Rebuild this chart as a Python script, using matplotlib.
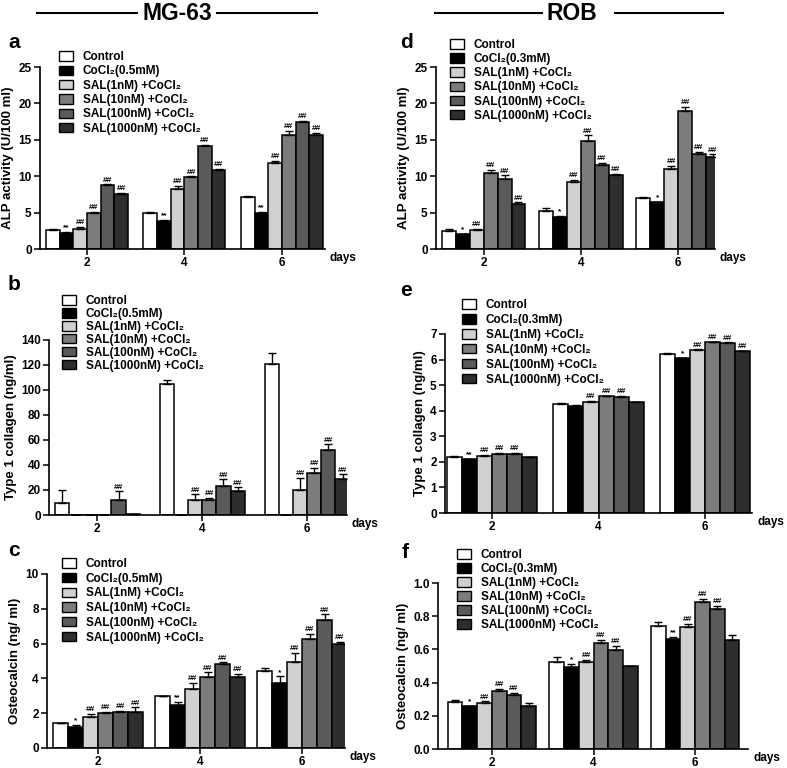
import numpy as np
import matplotlib
matplotlib.use('Agg')
import matplotlib.pyplot as plt
from matplotlib.lines import Line2D

plt.rcParams['font.family'] = ['Liberation Sans', 'DejaVu Sans']
plt.rcParams['font.weight'] = 'bold'

W, H = 787, 768

days = ['2', '4', '6']
colors = ['#ffffff', '#000000', '#d0d0d0', '#7c7c7c', '#5a5a5a', '#2e2e2e']
labels_mg63 = ['Control', 'CoCl₂(0.5mM)', 'SAL(1nM) +CoCl₂', 'SAL(10nM) +CoCl₂',
               'SAL(100nM) +CoCl₂', 'SAL(1000nM) +CoCl₂']
labels_rob = ['Control', 'CoCl₂(0.3mM)', 'SAL(1nM) +CoCl₂', 'SAL(10nM) +CoCl₂',
              'SAL(100nM) +CoCl₂', 'SAL(1000nM) +CoCl₂']

# rows = treatment (Control, CoCl2, 1nM, 10nM, 100nM, 1000nM), cols = day 2, 4, 6
alp_mg63 = [[2.6, 4.9, 7.1], [2.2, 3.9, 5.0], [2.7, 8.2, 11.8],
            [5.0, 9.9, 15.7], [8.8, 14.1, 17.5], [7.5, 10.8, 15.7]]
alp_mg63_err = [[0.2, 0.2, 0.2], [0.1, 0.1, 0.1], [0.3, 0.5, 0.3],
                [0.1, 0.1, 0.5], [0.1, 0.2, 0.1], [0.2, 0.2, 0.3]]
alp_mg63_sig = [['', '', ''], ['**', '**', '**'], ['##', '##', '##'],
                ['##', '##', '##'], ['##', '##', '##'], ['##', '##', '##']]

alp_rob = [[2.5, 5.2, 7.05], [2.0, 4.4, 6.4], [2.65, 9.2, 10.95],
           [10.5, 14.9, 18.9], [9.6, 11.5, 13.1], [6.2, 10.1, 12.6]]
alp_rob_err = [[0.2, 0.4, 0.1], [0.1, 0.1, 0.1], [0.1, 0.3, 0.5],
               [0.4, 0.7, 0.6], [0.5, 0.3, 0.2], [0.2, 0.2, 0.4]]
alp_rob_sig = [['', '', ''], ['*', '*', '*'], ['##', '##', '##'],
               ['##', '##', '##'], ['##', '##', '##'], ['##', '##', '##']]

col_mg63 = [[10, 105, 121], [0, 0, 0], [0, 12, 20],
            [0, 12, 34], [12, 23, 52], [0.8, 19.5, 28.5]]
col_mg63_err = [[10, 3, 8.5], [0, 0, 0], [0, 4.5, 10],
                [0, 1.5, 4], [7, 5.5, 4.5], [0, 2.7, 4]]
col_mg63_sig = [['', '', ''], ['', '', ''], ['', '##', '##'],
                ['', '##', '##'], ['##', '##', '##'], ['', '##', '##']]

col_rob = [[2.19, 4.26, 6.22], [2.11, 4.2, 6.05], [2.24, 4.35, 6.36],
           [2.32, 4.56, 6.68], [2.32, 4.54, 6.65], [2.19, 4.33, 6.32]]
col_rob_err = [[0.02, 0.03, 0.04], [0.02, 0.01, 0.02], [0.03, 0.04, 0.04],
               [0.03, 0.02, 0.02], [0.02, 0.03, 0.02], [0.01, 0.03, 0.02]]
col_rob_sig = [['', '', ''], ['**', '', '*'], ['##', '##', '##'],
               ['##', '##', '##'], ['##', '##', '##'], ['', '', '##']]

ost_mg63 = [[1.41, 2.96, 4.42], [1.22, 2.45, 3.71], [1.76, 3.38, 4.95],
            [1.99, 4.09, 6.25], [2.06, 4.82, 7.34], [2.08, 4.09, 5.95]]
ost_mg63_err = [[0.02, 0.02, 0.2], [0.08, 0.2, 0.4], [0.2, 0.38, 0.5],
                [0.08, 0.25, 0.3], [0.08, 0.1, 0.34], [0.25, 0.17, 0.17]]
ost_mg63_sig = [['', '', ''], ['*', '**', '*'], ['##', '##', '##'],
                ['##', '##', '##'], ['##', '##', '##'], ['##', '##', '##']]

ost_rob = [[0.283, 0.526, 0.739], [0.257, 0.496, 0.663], [0.277, 0.524, 0.735],
           [0.347, 0.639, 0.886], [0.323, 0.596, 0.843], [0.261, 0.498, 0.659]]
ost_rob_err = [[0.01, 0.03, 0.025], [0.005, 0.015, 0.01], [0.01, 0.015, 0.02],
               [0.015, 0.02, 0.02], [0.015, 0.025, 0.02], [0.015, 0.005, 0.03]]
ost_rob_sig = [['', '', ''], ['*', '*', '**'], ['##', '##', '##'],
               ['##', '##', '##'], ['##', '##', '##'], ['', '', '']]


def px_axes(fig, left, right, bottom, top):
    return fig.add_axes([left / W, 1 - bottom / H, (right - left) / W, (bottom - top) / H])


def bar_panel(ax, vals, errs, sigs, ylim, yticks, ylabel, xlim, group=0.85):
    n = len(vals)
    w = group / n
    x = np.arange(len(days))
    for i in range(n):
        pos = x - group / 2 + w * (i + 0.5)
        v = np.array(vals[i], dtype=float)
        e = np.array(errs[i], dtype=float)
        ax.bar(pos, v, w, color=colors[i], edgecolor='black', linewidth=1.1, zorder=2)
        ax.errorbar(pos, v, yerr=[np.zeros_like(e), e], fmt='none', ecolor='black',
                    elinewidth=1.0, capsize=3, capthick=1.0, zorder=3)
        for p, top, s in zip(pos, v + e, sigs[i]):
            if s:
                ax.annotate(s, (p, top), xytext=(0, 0.5), textcoords='offset points',
                            ha='center', va='bottom', fontsize=6, fontweight='bold')
    ax.set_xlim(*xlim)
    ax.set_ylim(*ylim)
    ax.set_yticks(yticks)
    ax.set_xticks(x)
    ax.set_xticklabels(days)
    ax.set_ylabel(ylabel, fontsize=9.5, fontweight='bold', labelpad=3)
    for sp in ['top', 'right']:
        ax.spines[sp].set_visible(False)
    for sp in ['left', 'bottom']:
        ax.spines[sp].set_linewidth(1.2)
    ax.tick_params(axis='both', labelsize=8.5, width=1.1, length=4, pad=2)
    ax.annotate('days', (1, 0), xytext=(5, -9), textcoords='offset pixels',
                xycoords='axes fraction', ha='left', va='center', fontsize=8.5, fontweight='bold')


def add_legend(fig, ax, labels, left, top, spacing=0.2):
    handles = [plt.Rectangle((0, 0), 1, 1, facecolor=c, edgecolor='black', linewidth=1.0)
               for c in colors]
    ax.legend(handles, labels, loc='upper left', bbox_to_anchor=(left / W, 1 - top / H),
              bbox_transform=fig.transFigure, frameon=False,
              handlelength=1.2, handleheight=0.85, labelspacing=spacing,
              handletextpad=0.8, borderpad=0, borderaxespad=0,
              prop={'weight': 'bold', 'size': 8.5})


def main():
    fig = plt.figure(figsize=(W / 100, H / 100), dpi=100)

    ax_a = px_axes(fig, 40, 325, 249, 67)
    bar_panel(ax_a, alp_mg63, alp_mg63_err, alp_mg63_sig, (0, 25), range(0, 26, 5),
              'ALP activity (U/100 ml)', (-0.48, 2.44), 0.84)
    add_legend(fig, ax_a, labels_mg63, 59, 51, 0.2)

    ax_d = px_axes(fig, 436, 715, 249, 67)
    bar_panel(ax_d, alp_rob, alp_rob_err, alp_rob_sig, (0, 25), range(0, 26, 5),
              'ALP activity (U/100 ml)', (-0.49, 2.38), 0.86)
    add_legend(fig, ax_d, labels_rob, 450, 39, 0.18)

    ax_b = px_axes(fig, 49, 347, 515, 340)
    bar_panel(ax_b, col_mg63, col_mg63_err, col_mg63_sig, (0, 140), range(0, 141, 20),
              'Type 1 collagen (ng/ml)', (-0.46, 2.38), 0.81)
    add_legend(fig, ax_b, labels_mg63, 62, 295, 0.08)

    ax_e = px_axes(fig, 445, 752, 513, 334)
    bar_panel(ax_e, col_rob, col_rob_err, col_rob_sig, (0, 7), range(0, 8),
              'Type 1 collagen (ng/ml)', (-0.44, 2.44), 0.85)
    add_legend(fig, ax_e, labels_rob, 462, 299, 0.25)

    ax_c = px_axes(fig, 47, 345, 748, 574)
    bar_panel(ax_c, ost_mg63, ost_mg63_err, ost_mg63_sig, (0, 10), range(0, 11, 2),
              'Osteocalcin (ng/ ml)', (-0.5, 2.42), 0.88)
    add_legend(fig, ax_c, labels_mg63, 62, 558, 0.23)

    ax_f = px_axes(fig, 438, 748, 749, 583)
    bar_panel(ax_f, ost_rob, ost_rob_err, ost_rob_sig, (0, 1.0), np.arange(0, 1.01, 0.2),
              'Osteocalcin (ng/ ml)', (-0.53, 2.52), 0.87)
    ax_f.set_yticklabels(['0.0', '0.2', '0.4', '0.6', '0.8', '1.0'])
    add_legend(fig, ax_f, labels_rob, 457, 549, 0.17)

    # panel letters
    for letter, x, y in [('a', 8, 43), ('d', 400, 43), ('b', 8, 285),
                         ('e', 400, 290), ('c', 8, 551), ('f', 402, 553)]:
        fig.text(x / W, 1 - y / H, letter, fontsize=15, fontweight='bold',
                 ha='left', va='center')

    # cell line headers
    for name, cx, segs in [('MG-63', 177, [(37, 137), (217, 317)]),
                           ('ROB', 572, [(435, 542), (615, 723)])]:
        fig.text(cx / W, 1 - 13 / H, name, fontsize=16.5, fontweight='bold',
                 ha='center', va='center')
        for x0, x1 in segs:
            fig.add_artist(Line2D([x0 / W, x1 / W], [1 - 13 / H, 1 - 13 / H],
                                  color='black', linewidth=1.5))

    fig.savefig('out.png', dpi=100)


if __name__ == "__main__":
    main()
